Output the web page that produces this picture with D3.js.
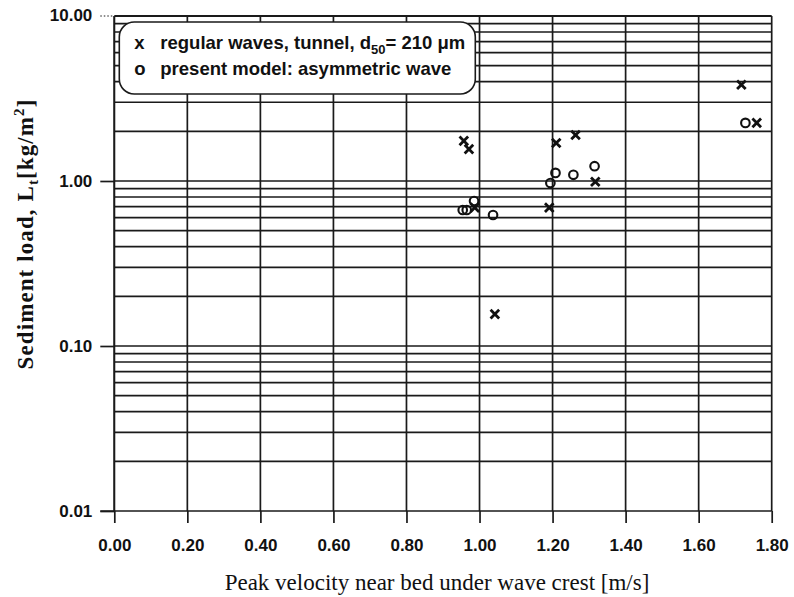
<!DOCTYPE html>
<html>
<head>
<meta charset="utf-8">
<script src="https://cdn.jsdelivr.net/npm/d3@7"></script>
<style>
  html, body { margin: 0; padding: 0; background: #fff; }
  svg { display: block; }
  .tick text { font-family: "Liberation Sans", Arial, sans-serif; font-weight: bold; font-size: 17px; fill: #111; }
</style>
</head>
<body>
<svg id="chart" width="794" height="597"></svg>
<script>
// Peak near-bed velocity [m/s] and sediment load [kg/m^2]
const tunnelVelocity = [0.957, 0.971, 0.987, 1.042, 1.191, 1.210, 1.263, 1.317, 1.717, 1.759];
const tunnelLoad     = [1.75, 1.56, 0.69, 0.156, 0.69, 1.70, 1.90, 0.99, 3.83, 2.25];
const modelVelocity  = [0.954, 0.965, 0.985, 1.037, 1.194, 1.208, 1.257, 1.315, 1.728];
const modelLoad      = [0.667, 0.667, 0.756, 0.622, 0.972, 1.12, 1.09, 1.23, 2.25];

const xTicks = [0, 0.2, 0.4, 0.6, 0.8, 1.0, 1.2, 1.4, 1.6, 1.8];
const xTickLabels = ["0.00", "0.20", "0.40", "0.60", "0.80", "1.00", "1.20", "1.40", "1.60", "1.80"];
const yTicks = [0.01, 0.1, 1, 10];
const yTickLabels = ["0.01", "0.10", "1.00", "10.00"];
const yMinorMultiples = [2, 3, 4, 5, 6, 7, 8, 9];

const svg = d3.select("#chart");
const margin = { left: 114.3, right: 794 - 771.7, top: 16, bottom: 597 - 511 };
const W = 794 - margin.left - margin.right;
const H = 597 - margin.top - margin.bottom;
const ink = "#1a1a1a";

const x = d3.scaleLinear().domain([0, 1.8]).range([0, W]);
const y = d3.scaleLog().domain([0.01, 10]).range([H, 0]);

const g = svg.append("g").attr("transform", `translate(${margin.left},${margin.top})`);

// horizontal grid at every 2..9 multiple of each decade
const minorVals = [];
[0.01, 0.1, 1].forEach(d => yMinorMultiples.forEach(m => minorVals.push(d * m)));
g.append("g")
  .selectAll("line")
  .data(minorVals)
  .join("line")
  .attr("x1", 0).attr("x2", W)
  .attr("y1", d => y(d)).attr("y2", d => y(d))
  .attr("stroke", ink).attr("stroke-width", 1.7);

// vertical grid
g.append("g")
  .selectAll("line")
  .data(xTicks)
  .join("line")
  .attr("x1", d => x(d)).attr("x2", d => x(d))
  .attr("y1", 0).attr("y2", H)
  .attr("stroke", ink).attr("stroke-width", 1.7);

// decade lines; the 10.00 line is dotted left of the axis
g.append("g")
  .selectAll("line")
  .data(yTicks.slice(1, 3))
  .join("line")
  .attr("x1", 0).attr("x2", W)
  .attr("y1", d => y(d)).attr("y2", d => y(d))
  .attr("stroke", ink).attr("stroke-width", 1.7);
g.append("line")
  .attr("x1", 0).attr("x2", W)
  .attr("y1", y(10)).attr("y2", y(10))
  .attr("stroke", ink).attr("stroke-width", 1.8);
g.append("line")
  .attr("x1", -14).attr("x2", 0)
  .attr("y1", y(10)).attr("y2", y(10))
  .attr("stroke", ink).attr("stroke-width", 1.2)
  .attr("stroke-dasharray", "1.5,2");

// bottom axis
const xAxis = d3.axisBottom(x)
  .tickValues(xTicks)
  .tickFormat((d, i) => xTickLabels[i])
  .tickSizeInner(12).tickSizeOuter(0).tickPadding(16);
const gx = g.append("g").attr("transform", `translate(0,${H})`).call(xAxis);
gx.select(".domain").attr("d", `M-14,0H${W}`).attr("stroke", ink).attr("stroke-width", 1.7);
gx.selectAll(".tick line").attr("stroke", ink).attr("stroke-width", 1.7);

// left axis
const yAxis = d3.axisLeft(y)
  .tickValues(yTicks.slice(0, 3))
  .tickFormat((d, i) => yTickLabels[i])
  .tickSizeInner(14).tickSizeOuter(0).tickPadding(8);
const gy = g.append("g").call(yAxis);
gy.select(".domain").attr("d", `M0,${H}V0`).attr("stroke", ink).attr("stroke-width", 1.7);
gy.selectAll(".tick line").attr("stroke", ink).attr("stroke-width", 1.7);
gy.append("text")
  .attr("x", -22).attr("y", y(10)).attr("dy", "0.32em")
  .attr("text-anchor", "end")
  .style("font-family", '"Liberation Sans", Arial, sans-serif')
  .style("font-weight", "bold").style("font-size", "17px").attr("fill", "#111")
  .text(yTickLabels[3]);

// legend
const leg = g.append("g").attr("transform", "translate(5,6)");
leg.append("rect")
  .attr("width", 356).attr("height", 72).attr("rx", 15).attr("ry", 15)
  .attr("fill", "#fff").attr("stroke", ink).attr("stroke-width", 1.6);
const legFont = '"Liberation Sans", Arial, sans-serif';
const l1 = leg.append("text").attr("x", 15).attr("y", 27)
  .style("font-family", legFont).style("font-weight", "bold")
  .style("font-size", "18.5px").attr("fill", "#111");
l1.append("tspan").text("x");
l1.append("tspan").attr("x", 41).text("regular waves, tunnel, d");
l1.append("tspan").attr("dy", 5).style("font-size", "13px").text("50");
l1.append("tspan").attr("dy", -5).text("= 210 \u03bcm");
leg.append("text").attr("x", 15).attr("y", 53)
  .style("font-family", legFont).style("font-weight", "bold")
  .style("font-size", "18.5px").attr("fill", "#111")
  .text("o")
  .append("tspan").attr("x", 41).text("present model: asymmetric wave");

// markers
const tunnel = tunnelVelocity.map((v, i) => ({ v, L: tunnelLoad[i] }));
const model = modelVelocity.map((v, i) => ({ v, L: modelLoad[i] }));
const s = 4.3;
g.append("g").selectAll("path")
  .data(tunnel)
  .join("path")
  .attr("transform", d => `translate(${x(d.v)},${y(d.L)})`)
  .attr("d", `M${-s},${-s}L${s},${s}M${-s},${s}L${s},${-s}`)
  .attr("stroke", "#111").attr("stroke-width", 2.8).attr("fill", "none");
g.append("g").selectAll("circle")
  .data(model)
  .join("circle")
  .attr("cx", d => x(d.v)).attr("cy", d => y(d.L)).attr("r", 4.3)
  .attr("stroke", "#111").attr("stroke-width", 2.1).attr("fill", "none");

// axis titles
svg.append("text")
  .attr("x", 437).attr("y", 590)
  .attr("text-anchor", "middle")
  .style("font-family", '"Liberation Serif", "Times New Roman", serif')
  .style("font-size", "23px").attr("fill", "#111")
  .text("Peak velocity near bed under wave crest [m/s]");

const yl = svg.append("text")
  .attr("transform", "translate(33,234) rotate(-90)")
  .attr("text-anchor", "middle")
  .style("font-family", '"Liberation Serif", "Times New Roman", serif')
  .style("font-weight", "bold")
  .style("letter-spacing", "1.1px")
  .style("font-size", "23px").attr("fill", "#111");
yl.append("tspan").text("Sediment load, L");
yl.append("tspan").attr("dy", 5).style("font-size", "15px").text("t");
yl.append("tspan").attr("dy", -5).text("[kg/m");
yl.append("tspan").attr("dy", -9).style("font-size", "15px").text("2");
yl.append("tspan").attr("dy", 9).text("]");
</script>
</body>
</html>
